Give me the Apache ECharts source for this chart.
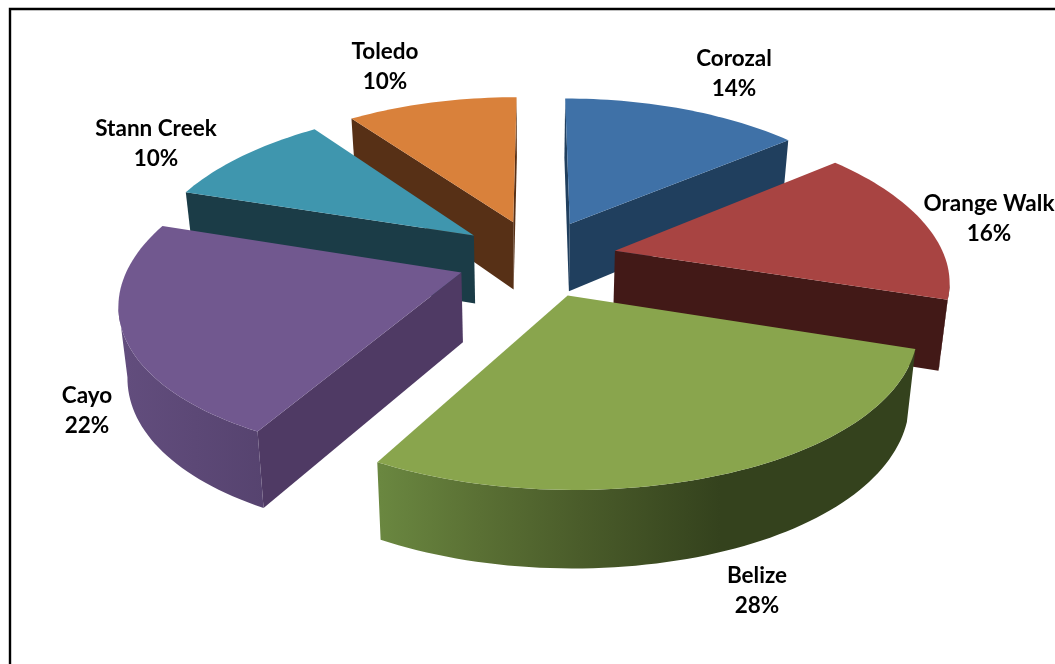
<!DOCTYPE html>
<html>
<head>
<meta charset="utf-8">
<style>html,body{margin:0;padding:0;background:#fff}#c{width:1055px;height:664px}</style>
<script src="https://cdn.jsdelivr.net/npm/echarts@6/dist/echarts.min.js"></script>
</head>
<body>
<div id="c"></div>
<script>
// ---- data ----
var categories = ['Corozal', 'Orange Walk', 'Belize', 'Cayo', 'Stann Creek', 'Toledo'];
var shares = [14, 16, 28, 22, 10, 10];

// ---- styles ----
var topColors = ['#3F71A7', '#A84442', '#89A54D', '#71588F', '#3F96AE', '#D9813B'];
var faceColors = ['#203F5E', '#421917', '#34421D', '#4F3A64', '#1B3C47', '#573016'];
var wallStops = [
  null, null,
  [[380, '#6A8740'], [480, '#5A7034'], [580, '#4A5C2A'], [720, '#34421D']],
  [[125, '#624D7D'], [265, '#56436F']],
  null, null
];
var labelCenters = [[734, 74], [989, 219], [757, 591], [87, 411], [156, 144], [385, 67]];

// ---- perspective camera (layout) ----
var cam = {cx: 537, cy: 258, ax: 330, by: 153.3, persp: 0.148, perspX: 0.17, explodeX: 80, explodeV: 0.254,
           botCx: 530, botScale: 0.978, depth: 69, depthSlope: 52};

function project(theta, mid, rimR) {
  var v = rimR * Math.cos(theta) + cam.explodeV * Math.cos(mid);
  var den = 1 + cam.persp * v;
  var denX = 1 + cam.perspX * v;
  return {
    x: cam.cx + (cam.ax * rimR * Math.sin(theta) + cam.explodeX * Math.sin(mid)) / denX,
    y: cam.cy - cam.by * v / den,
    den: den
  };
}
function topPt(p) { return [p.x, p.y]; }
function botPt(p) {
  return [cam.botCx + cam.botScale * (p.x - cam.botCx), p.y + cam.depth + cam.depthSlope * (1 - p.den)];
}

var total = shares.reduce(function (a, b) { return a + b; }, 0);
var starts = [];
shares.reduce(function (acc, v, i) { starts[i] = acc; return acc + v; }, 0);

// paint order: far slices first
var order = shares.map(function (v, i) {
  return {i: i, c: Math.cos(2 * Math.PI * (starts[i] + v / 2) / total)};
}).sort(function (a, b) { return b.c - a.c; });
var rank = {};
order.forEach(function (o, r) { rank[o.i] = r; });

function renderItem(params, api) {
  var i = params.dataIndex;
  var value = api.value(0);
  var a0 = 2 * Math.PI * starts[i] / total;
  var a1 = a0 + 2 * Math.PI * value / total;
  var mid = (a0 + a1) / 2;
  var n = Math.max(6, Math.round((a1 - a0) / (Math.PI / 120)));
  var rim = [];
  for (var k = 0; k <= n; k++) rim.push(project(a0 + (a1 - a0) * k / n, mid, 1));
  var apex = project(0, mid, 0);
  var z = (rank[i] + 1) * 10;
  var first = rim[0], last = rim[n];
  var children = [];

  // radial cut faces, only when they turn towards the viewer
  function face(p) {
    return {type: 'polygon', z2: z, shape: {points: [topPt(apex), topPt(p), botPt(p), botPt(apex)]},
            style: {fill: faceColors[i]}};
  }
  if (first.x < apex.x) children.push(face(first));
  if (last.x > apex.x) children.push(face(last));

  // outer wall: the stretch of rim that runs right-to-left (front-facing)
  var front = rim.filter(function (p, k) {
    return (k < n && rim[k + 1].x < p.x) || (k > 0 && p.x < rim[k - 1].x);
  });
  if (front.length > 1) {
    var wallFill = faceColors[i];
    if (wallStops[i]) {
      var st = wallStops[i], x0 = st[0][0], x1 = st[st.length - 1][0];
      wallFill = new echarts.graphic.LinearGradient(x0, 0, x1, 0, st.map(function (s) {
        return {offset: (s[0] - x0) / (x1 - x0), color: s[1]};
      }), true);
    }
    children.push({type: 'polygon', z2: z + 1,
      shape: {points: front.map(topPt).concat(front.map(botPt).reverse())},
      style: {fill: wallFill}});
  }

  children.push({type: 'polygon', z2: z + 2, shape: {points: [topPt(apex)].concat(rim.map(topPt))},
    style: {fill: topColors[i]}});
  children.push({type: 'text', z2: 200, x: labelCenters[i][0], y: labelCenters[i][1],
    style: {
      text: categories[i] + '\n' + Math.round(value / total * 100) + '%',
      fill: '#000', font: '700 22.5px Lato, "Open Sans", sans-serif',
      align: 'center', verticalAlign: 'middle', lineHeight: 30
    }});
  return {type: 'group', children: children};
}

var chart = echarts.init(document.getElementById('c'), null, {renderer: 'canvas'});
chart.setOption({
  animation: false,
  backgroundColor: '#fff',
  graphic: [{
    type: 'polyline', silent: true,
    shape: {points: [[10, 664], [10, 9], [1055, 9]]},
    style: {stroke: '#000', lineWidth: 2.4, fill: null}
  }],
  series: [{
    type: 'custom',
    coordinateSystem: 'none',
    silent: true,
    renderItem: renderItem,
    data: shares.map(function (v, i) { return {name: categories[i], value: [v]}; })
  }]
});
</script>
</body>
</html>
